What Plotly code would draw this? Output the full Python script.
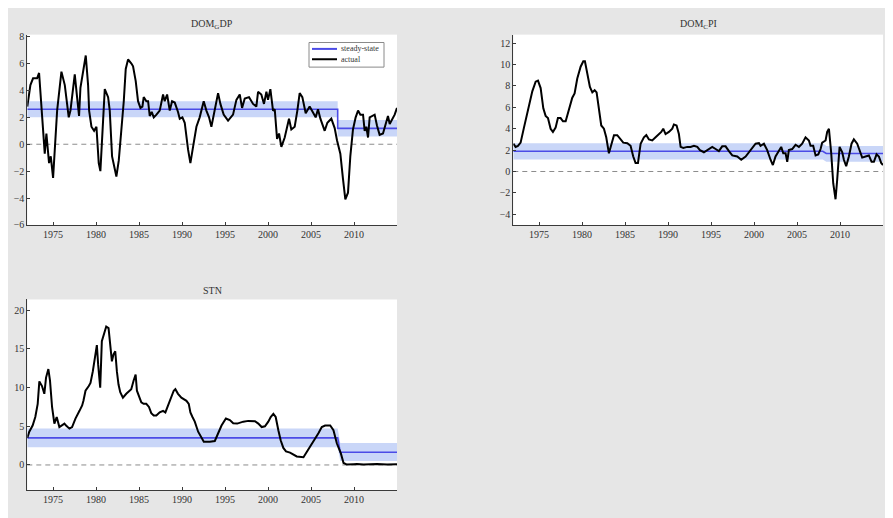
import plotly.graph_objects as go

W, H = 893, 518
OX, OY = 8, 8  # page body margin offset of the plot in the browser window

# ---------------- data ----------------
years_ticks = [1975, 1980, 1985, 1990, 1995, 2000, 2005, 2010]
x_range = [1972.0, 2015.0]

# DOM_G DP (top-left)
gdp_t = [1972.00, 1972.36, 1972.67, 1973.14, 1973.37, 1974.03, 1974.22, 1974.53, 1974.73, 1975.00,
         1975.47, 1975.97, 1976.36, 1976.55, 1976.82, 1977.02, 1977.52, 1977.79, 1978.02, 1978.18,
         1978.49, 1978.80, 1979.07, 1979.19, 1979.46, 1979.77, 1980.04, 1980.31, 1980.50, 1980.81,
         1981.01, 1981.40, 1981.59, 1981.86, 1982.17, 1982.36, 1982.64, 1982.95, 1983.22, 1983.45,
         1983.72, 1984.11, 1984.30, 1984.61, 1984.88, 1985.16, 1985.39, 1985.54, 1985.85, 1986.05,
         1986.24, 1986.47, 1986.71, 1987.02, 1987.40, 1987.79, 1987.98, 1988.26, 1988.57, 1988.84,
         1989.15, 1989.53, 1989.73, 1990.04, 1990.31, 1990.70, 1990.97, 1991.28, 1991.67, 1992.05,
         1992.52, 1992.83, 1993.14, 1993.41, 1993.80, 1994.19, 1994.46, 1994.84, 1995.35, 1995.93,
         1996.32, 1996.71, 1996.98, 1997.29, 1997.79, 1998.26, 1998.64, 1998.84, 1999.22, 1999.53,
         1999.81, 2000.00, 2000.27, 2000.58, 2000.78, 2001.05, 2001.28, 2001.55, 2001.94, 2002.21,
         2002.44, 2002.71, 2003.10, 2003.41, 2003.68, 2003.99, 2004.38, 2004.84, 2005.23, 2005.54,
         2005.81, 2006.09, 2006.59, 2006.90, 2007.36, 2007.75, 2008.02, 2008.41, 2008.72, 2008.99,
         2009.30, 2009.57, 2009.88, 2010.19, 2010.47, 2010.74, 2011.05, 2011.24, 2011.43, 2011.63,
         2011.82, 2012.21, 2012.40, 2012.67, 2012.98, 2013.37, 2013.76, 2013.95, 2014.15, 2014.53,
         2014.73, 2015.00]
gdp_v = [2.8, 4.4, 4.9, 4.9, 5.3, -0.7, 0.8, -1.4, -0.9, -2.5,
         2.5, 5.4, 4.4, 3.5, 2.0, 2.5, 5.2, 3.5, 2.1, 4.2,
         5.6, 6.6, 4.4, 2.5, 1.3, 1.0, 1.3, -1.4, -2.0, 1.5,
         4.1, 3.5, 2.5, -0.9, -1.7, -2.4, -1.2, 1.0, 3.2, 5.6,
         6.3, 6.0, 5.8, 4.7, 3.2, 2.7, 2.8, 3.5, 3.2, 3.2,
         2.1, 2.4, 2.0, 2.2, 2.5, 3.7, 3.2, 3.7, 2.5, 3.2,
         3.1, 2.4, 1.9, 2.0, 1.6, -0.4, -1.4, -0.2, 1.3, 2.0,
         3.2, 2.5, 2.0, 1.3, 2.7, 3.8, 3.0, 2.2, 1.75, 2.2,
         3.3, 3.7, 2.7, 3.4, 3.5, 3.0, 2.8, 3.9, 3.7, 3.0,
         3.9, 3.3, 4.1, 2.5, 2.6, 0.4, 0.8, -0.2, 0.5, 1.3,
         1.9, 1.1, 1.3, 2.5, 3.8, 3.5, 2.3, 2.8, 2.4, 2.0,
         2.6, 1.9, 1.0, 1.6, 1.9, 1.2, 0.3, -0.7, -2.6, -4.1,
         -3.6, -0.9, 1.1, 2.0, 2.5, 2.2, 2.2, 1.0, 1.3, 0.5,
         2.0, 2.1, 2.2, 1.4, 0.7, 0.8, 1.75, 2.1, 1.5, 2.0,
         2.2, 2.7]
gdp_ss_t = [1972.0, 2008.1, 2008.1, 2015.0]
gdp_ss = [2.6, 2.6, 1.18, 1.18]
gdp_ss_lo = [2.0, 2.0, 0.58, 0.58]
gdp_ss_hi = [3.2, 3.2, 1.8, 1.8]

# DOM_C PI (top-right)
cpi_t = [1972.00, 1972.27, 1972.54, 1972.85, 1973.24, 1973.71, 1974.21, 1974.60, 1974.87, 1975.18,
         1975.49, 1975.76, 1976.03, 1976.34, 1976.61, 1976.92, 1977.19, 1977.50, 1977.78, 1978.09,
         1978.47, 1978.86, 1979.13, 1979.44, 1979.83, 1980.14, 1980.33, 1980.60, 1980.91, 1981.19,
         1981.46, 1981.69, 1981.96, 1982.23, 1982.54, 1982.81, 1983.12, 1983.40, 1983.71, 1984.09,
         1984.48, 1984.79, 1985.26, 1985.64, 1985.95, 1986.22, 1986.50, 1986.81, 1987.19, 1987.47,
         1987.78, 1988.16, 1988.55, 1988.94, 1989.21, 1989.44, 1989.71, 1990.10, 1990.49, 1990.68,
         1990.99, 1991.26, 1991.46, 1991.77, 1992.23, 1992.62, 1993.01, 1993.40, 1993.71, 1994.17,
         1994.56, 1995.14, 1995.53, 1995.91, 1996.30, 1996.69, 1997.08, 1997.47, 1998.05, 1998.51,
         1999.02, 1999.40, 1999.79, 2000.18, 2000.57, 2000.76, 2001.15, 2001.53, 2001.92, 2002.19,
         2002.50, 2002.89, 2003.16, 2003.40, 2003.67, 2003.86, 2004.05, 2004.44, 2004.83, 2005.22,
         2005.60, 2005.99, 2006.38, 2006.57, 2006.88, 2007.16, 2007.47, 2007.74, 2007.93, 2008.32,
         2008.51, 2008.71, 2008.98, 2009.21, 2009.48, 2009.67, 2009.95, 2010.26, 2010.45, 2010.72,
         2011.03, 2011.34, 2011.61, 2012.00, 2012.31, 2012.58, 2012.97, 2013.36, 2013.67, 2013.94,
         2014.25, 2014.52, 2014.79, 2015.00]
cpi_v = [2.6, 2.3, 2.4, 2.7, 4.1, 5.9, 7.5, 8.4, 8.5, 7.8,
         5.9, 5.2, 5.0, 4.0, 3.7, 4.1, 5.0, 5.0, 4.7, 4.7,
         5.9, 6.9, 7.3, 8.7, 9.8, 10.3, 10.3, 9.0, 7.9, 7.4,
         7.6, 7.4, 5.9, 4.3, 4.0, 3.2, 1.7, 2.6, 3.4, 3.4,
         3.0, 2.7, 2.65, 2.4, 1.4, 0.8, 0.8, 2.6, 3.2, 3.4,
         3.0, 2.9, 3.2, 3.5, 3.7, 4.0, 3.5, 3.7, 4.0, 4.4,
         4.3, 3.5, 2.3, 2.2, 2.3, 2.3, 2.4, 2.3, 2.0, 1.8,
         2.0, 2.3, 2.1, 1.9, 2.35, 2.35, 1.9, 1.5, 1.4, 1.1,
         1.4, 1.8, 2.3, 2.6, 2.65, 2.4, 2.6, 2.0, 1.1, 0.6,
         1.4, 2.0, 2.3, 1.7, 1.7, 0.9, 2.0, 2.1, 2.5, 2.3,
         2.6, 3.2, 2.9, 2.4, 2.4, 1.5, 1.6, 2.1, 2.7, 2.9,
         3.7, 4.0, 1.7, -1.1, -2.6, -0.8, 2.3, 1.8, 1.1, 0.5,
         1.4, 2.6, 3.0, 2.6, 1.8, 1.3, 1.4, 1.5, 0.9, 0.9,
         1.6, 1.4, 0.8, 0.6]
cpi_ss_t = [1972.0, 2008.0, 2008.4, 2015.0]
cpi_ss = [1.89, 1.89, 1.68, 1.68]
cpi_ss_lo = [1.13, 1.13, 0.91, 0.91]
cpi_ss_hi = [2.65, 2.65, 2.38, 2.38]

# STN (bottom-left)
stn_t = [1972.00, 1972.23, 1972.62, 1972.93, 1973.21, 1973.40, 1973.71, 1973.98, 1974.18, 1974.45,
         1974.64, 1974.88, 1975.15, 1975.42, 1975.73, 1976.32, 1976.51, 1976.90, 1977.21, 1977.60,
         1978.07, 1978.38, 1978.53, 1978.77, 1979.15, 1979.35, 1979.62, 1979.93, 1980.09, 1980.24,
         1980.40, 1980.48, 1980.67, 1980.86, 1981.18, 1981.45, 1981.68, 1981.84, 1982.03, 1982.23,
         1982.42, 1982.61, 1982.81, 1983.12, 1983.51, 1983.90, 1984.09, 1984.36, 1984.60, 1984.75,
         1984.99, 1985.26, 1985.53, 1985.84, 1986.15, 1986.42, 1986.70, 1987.01, 1987.40, 1987.79,
         1988.06, 1988.37, 1988.76, 1989.03, 1989.22, 1989.53, 1989.92, 1990.23, 1990.51, 1990.78,
         1990.97, 1991.21, 1991.48, 1991.87, 1992.18, 1992.53, 1993.23, 1993.81, 1994.20, 1994.59,
         1995.10, 1995.56, 1995.95, 1996.42, 1997.12, 1997.70, 1998.48, 1998.87, 1999.26, 1999.64,
         2000.03, 2000.31, 2000.62, 2000.89, 2001.20, 2001.47, 2001.78, 2002.09, 2002.56, 2002.95,
         2003.34, 2004.12, 2004.70, 2005.28, 2005.86, 2006.25, 2006.64, 2007.23, 2007.61, 2008.00,
         2008.27, 2008.47, 2008.78, 2009.17, 2009.95, 2010.34, 2011.11, 2012.67, 2013.84, 2015.00]
stn_v = [3.5, 4.3, 5.1, 6.2, 7.9, 10.8, 10.2, 9.2, 11.3, 12.4,
         10.9, 7.5, 5.35, 6.2, 4.9, 5.35, 5.1, 4.7, 4.9, 6.0,
         7.0, 7.7, 8.3, 9.6, 10.2, 10.6, 12.1, 14.3, 15.5, 13.0,
         10.0, 10.0, 16.0, 16.8, 17.9, 17.7, 14.7, 13.4, 14.3, 14.7,
         12.1, 10.4, 9.4, 8.7, 9.2, 9.6, 9.8, 10.9, 11.7, 9.6,
         9.0, 8.1, 7.9, 7.9, 7.5, 6.7, 6.4, 6.4, 6.8, 7.0,
         6.8, 7.7, 8.7, 9.6, 9.8, 9.2, 8.7, 8.5, 8.3, 7.9,
         6.8, 6.2, 5.6, 4.3, 3.65, 3.0, 3.0, 3.1, 4.1, 5.1,
         6.0, 5.8, 5.4, 5.35, 5.6, 5.7, 5.65, 5.35, 4.9, 5.0,
         5.6, 6.2, 6.6, 6.2, 4.5, 3.2, 2.2, 1.75, 1.6, 1.3,
         1.1, 1.0, 2.0, 3.0, 4.1, 4.9, 5.1, 5.1, 4.5, 2.8,
         2.0, 1.5, 0.25, 0.05, 0.1, 0.13, 0.05, 0.13, 0.05, 0.1]
stn_ss_t = [1972.0, 2008.1, 2008.4, 2015.0]
stn_ss = [3.5, 3.5, 1.65, 1.65]
stn_ss_lo = [2.3, 2.3, 0.5, 0.5]
stn_ss_hi = [4.7, 4.7, 2.85, 2.85]

legend_labels = ["steady-state", "actual"]

assert len(gdp_t) == len(gdp_v)
assert len(cpi_t) == len(cpi_v)
assert len(stn_t) == len(stn_v)

# ---------------- styling / layout ----------------
BG = "#e6e6e6"
BAND = "#c9d6f8"
SSLINE = "#4b4be6"
AXC = "#3a3a3a"
TXT = "#333333"
FONT = "Liberation Serif, Times New Roman, serif"


def fx(px):
    return (px - OX) / W


def fy(py):
    return 1 - (py - OY) / H


panels = [
    dict(key="1", title="DOM<sub>G</sub>DP", t=gdp_t, v=gdp_v, sst=gdp_ss_t, ss=gdp_ss,
         lo=gdp_ss_lo, hi=gdp_ss_hi, yr=[-6, 8.15], ydt=2, y0=-6,
         px=(27.3, 397), py=(32, 225.3)),
    dict(key="2", title="DOM<sub>C</sub>PI", t=cpi_t, v=cpi_v, sst=cpi_ss_t, ss=cpi_ss,
         lo=cpi_ss_lo, hi=cpi_ss_hi, yr=[-5, 12.8], ydt=2, y0=-4,
         px=(513.3, 883), py=(32, 225.3)),
    dict(key="3", title="STN", t=stn_t, v=stn_v, sst=stn_ss_t, ss=stn_ss,
         lo=stn_ss_lo, hi=stn_ss_hi, yr=[-3.3, 21.4], ydt=5, y0=0,
         px=(27.3, 397), py=(301, 495)),
]

fig = go.Figure()
layout = dict(
    width=W, height=H,
    paper_bgcolor=BG, plot_bgcolor="white",
    margin=dict(l=0, r=0, t=0, b=0),
    font=dict(family=FONT, size=10, color=TXT),
    showlegend=False,
    annotations=[],
    shapes=[],
)

for p in panels:
    k = p["key"]
    xa = "x" if k == "1" else "x" + k
    ya = "y" if k == "1" else "y" + k
    fig.add_trace(go.Scatter(x=p["sst"], y=p["lo"], mode="lines", line=dict(width=0),
                             xaxis=xa, yaxis=ya, hoverinfo="skip"))
    fig.add_trace(go.Scatter(x=p["sst"], y=p["hi"], mode="lines", line=dict(width=0),
                             fill="tonexty", fillcolor=BAND,
                             xaxis=xa, yaxis=ya, hoverinfo="skip"))
    fig.add_trace(go.Scatter(x=p["sst"], y=p["ss"], mode="lines", name=legend_labels[0],
                             line=dict(color=SSLINE, width=1.6), xaxis=xa, yaxis=ya))
    fig.add_trace(go.Scatter(x=p["t"], y=p["v"], mode="lines", name=legend_labels[1],
                             line=dict(color="black", width=2), xaxis=xa, yaxis=ya))

    x0, x1 = p["px"]
    ytop, ybot = p["py"]
    dx = [fx(x0), fx(x1)]
    dy = [fy(ybot), fy(ytop)]
    axis_common = dict(showgrid=False, zeroline=False, showline=True, linecolor=AXC,
                       linewidth=1, ticks="inside", ticklen=3, tickcolor=AXC,
                       tickfont=dict(family=FONT, size=10, color=TXT))
    xname = "xaxis" if k == "1" else "xaxis" + k
    yname = "yaxis" if k == "1" else "yaxis" + k
    layout[xname] = dict(domain=dx, range=x_range, anchor=ya,
                         tickmode="array", tickvals=years_ticks, **axis_common)
    layout[yname] = dict(domain=dy, range=p["yr"], anchor=xa,
                         tickmode="linear", tick0=p["y0"], dtick=p["ydt"], **axis_common)
    layout["shapes"].append(dict(type="line", xref=xa + " domain", yref=ya,
                                 x0=0, x1=1, y0=0, y1=0, layer="below",
                                 line=dict(color="#8c8c8c", width=1, dash="5px,4px")))
    layout["annotations"].append(dict(text=p["title"], xref="paper", yref="paper",
                                      x=(dx[0] + dx[1]) / 2, y=dy[1] + 1.5 / H,
                                      xanchor="center", yanchor="bottom", showarrow=False,
                                      font=dict(family=FONT, size=10, color=TXT)))

# hand-drawn legend box in the top-left panel (matches the compact MATLAB legend)
lb_x0, lb_x1, lb_y0, lb_y1 = 309, 384, 40, 65
layout["shapes"].append(dict(type="rect", xref="paper", yref="paper",
                             x0=fx(lb_x0), x1=fx(lb_x1), y0=fy(lb_y1), y1=fy(lb_y0),
                             fillcolor="white", line=dict(color="#8a8a8a", width=1)))
for i, (lab, col) in enumerate(zip(legend_labels, [SSLINE, "black"])):
    yy = 46.5 + i * 10.5
    layout["shapes"].append(dict(type="line", xref="paper", yref="paper",
                                 x0=fx(312), x1=fx(337), y0=fy(yy), y1=fy(yy),
                                 line=dict(color=col, width=2)))
    layout["annotations"].append(dict(text=lab, xref="paper", yref="paper",
                                      x=fx(338.5), y=fy(yy), xanchor="left", yanchor="middle",
                                      showarrow=False,
                                      font=dict(family=FONT, size=8, color=TXT)))

fig.update_layout(**layout)
fig.write_html("out.html")
